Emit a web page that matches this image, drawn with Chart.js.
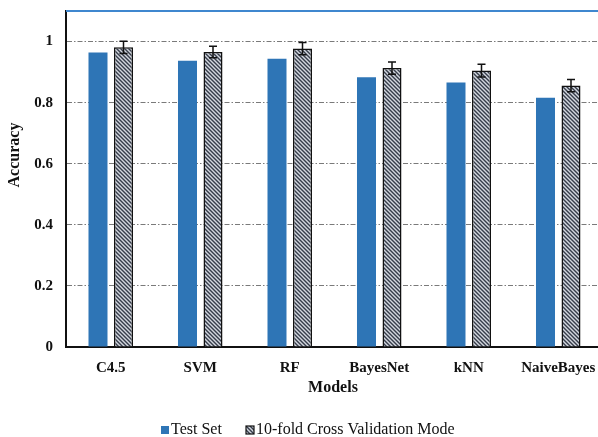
<!DOCTYPE html>
<html>
<head>
<meta charset="utf-8">
<script src="https://cdn.jsdelivr.net/npm/chart.js@4/dist/chart.umd.min.js"></script>
<style>
  html, body { margin: 0; padding: 0; background: #fff; overflow: hidden; }
  #wrap { width: 606px; height: 437px; }
</style>
</head>
<body>
<div id="wrap"><canvas id="c" width="606" height="437"></canvas></div>
<script>
// Model accuracy: held-out test set vs 10-fold cross validation (mean ± sd)
const models = ['C4.5', 'SVM', 'RF', 'BayesNet', 'kNN', 'NaiveBayes'];
const testSet = [0.964, 0.937, 0.944, 0.883, 0.866, 0.816];
const crossVal = [0.981, 0.966, 0.977, 0.913, 0.905, 0.856];
const crossValErr = [0.020, 0.019, 0.020, 0.020, 0.021, 0.020];
const yTicks = [0, 0.2, 0.4, 0.6, 0.8, 1];
const seriesNames = ['Test Set', '10-fold Cross Validation Mode'];

const SERIF = '"Liberation Serif", "Times New Roman", serif';
const BLUE = '#2e75b6';

// diagonal hatch fill for the cross-validation bars
function makeHatch() {
  const s = 4;
  const c = document.createElement('canvas');
  c.width = s; c.height = s;
  const g = c.getContext('2d');
  g.fillStyle = '#d3d7de';
  g.fillRect(0, 0, s, s);
  g.strokeStyle = '#363d4a';
  g.lineWidth = 1.4;
  for (const k of [-s, 0, s]) {
    g.beginPath();
    g.moveTo(k - 1, -1);
    g.lineTo(k + s + 1, s + 1);
    g.stroke();
  }
  return g.createPattern(c, 'repeat');
}
const ctx0 = document.getElementById('c').getContext('2d');
const hatch = makeHatch();

const extras = {
  id: 'extras',
  afterDatasetsDraw(chart) {
    const { ctx, scales: { y } } = chart;
    // error bars on the cross-validation series
    const meta = chart.getDatasetMeta(1);
    ctx.save();
    ctx.strokeStyle = '#111';
    ctx.lineWidth = 1.5;
    meta.data.forEach((bar, i) => {
      const yt = y.getPixelForValue(crossVal[i] + crossValErr[i]);
      const yb = y.getPixelForValue(crossVal[i] - crossValErr[i]);
      const x = bar.x;
      ctx.beginPath();
      ctx.moveTo(x, yt); ctx.lineTo(x, yb);
      ctx.moveTo(x - 4, yt); ctx.lineTo(x + 4, yt);
      ctx.moveTo(x - 4, yb); ctx.lineTo(x + 4, yb);
      ctx.stroke();
    });
    ctx.restore();
  },
  afterDraw(chart) {
    const { ctx, chartArea: a } = chart;
    ctx.save();
    // top frame line
    ctx.strokeStyle = '#3f87cf';
    ctx.lineWidth = 2;
    ctx.beginPath();
    ctx.moveTo(a.left, a.top);
    ctx.lineTo(chart.width, a.top);
    ctx.stroke();

    // axis titles
    ctx.fillStyle = '#111';
    ctx.font = 'bold 16px ' + SERIF;
    ctx.textAlign = 'center';
    ctx.textBaseline = 'middle';
    ctx.fillText('Models', 333, 388);
    ctx.save();
    ctx.translate(15, 155);
    ctx.rotate(-Math.PI / 2);
    ctx.fillText('Accuracy', 0, 0);
    ctx.restore();

    // legend
    ctx.font = '16px ' + SERIF;
    ctx.textAlign = 'left';
    const ly = 430;
    ctx.fillStyle = BLUE;
    ctx.fillRect(161, ly - 4, 8, 8);
    ctx.fillStyle = '#111';
    ctx.fillText(seriesNames[0], 171, ly);
    ctx.fillStyle = hatch;
    ctx.fillRect(246, ly - 4, 8, 8);
    ctx.strokeStyle = '#111';
    ctx.lineWidth = 1.2;
    ctx.strokeRect(246, ly - 4, 8, 8);
    ctx.fillStyle = '#111';
    ctx.fillText(seriesNames[1], 256, ly);
    ctx.restore();
  }
};

new Chart(ctx0, {
  type: 'bar',
  data: {
    labels: models,
    datasets: [
      { label: seriesNames[0], data: testSet, backgroundColor: BLUE, borderWidth: 0,
        categoryPercentage: 0.57, barPercentage: 0.745 },
      { label: seriesNames[1], data: crossVal, backgroundColor: hatch, borderColor: '#111', borderWidth: 1.5,
        categoryPercentage: 0.57, barPercentage: 0.745 }
    ]
  },
  options: {
    responsive: false,
    animation: false,
    devicePixelRatio: 1,
    layout: { padding: { top: 11, right: 3, bottom: 0, left: 0 } },
    plugins: { legend: { display: false }, tooltip: { enabled: false } },
    scales: {
      x: {
        grid: { display: false, drawTicks: false },
        border: { display: true, color: '#111', width: 2 },
        ticks: { color: '#111', padding: 12, font: { family: SERIF, size: 15, weight: 'bold' } },
        afterFit(s) { s.height = 90; s.paddingLeft = 0; s.paddingRight = 0; }
      },
      y: {
        min: 0, max: 1.1,
        afterBuildTicks(s) { s.ticks = yTicks.map(v => ({ value: v })); },
        grid: { color: '#7a7a7a', lineWidth: 1, drawTicks: false },
        border: { display: true, color: '#111', width: 2, dash: [5, 2, 1.5, 2] },
        ticks: { color: '#111', padding: 13, font: { family: SERIF, size: 15, weight: 'bold' },
                 callback: v => String(+v.toFixed(1)) },
        afterFit(s) { s.width = 66; s.paddingTop = 0; s.paddingBottom = 0; }
      }
    }
  },
  plugins: [extras]
});
</script>
</body>
</html>
